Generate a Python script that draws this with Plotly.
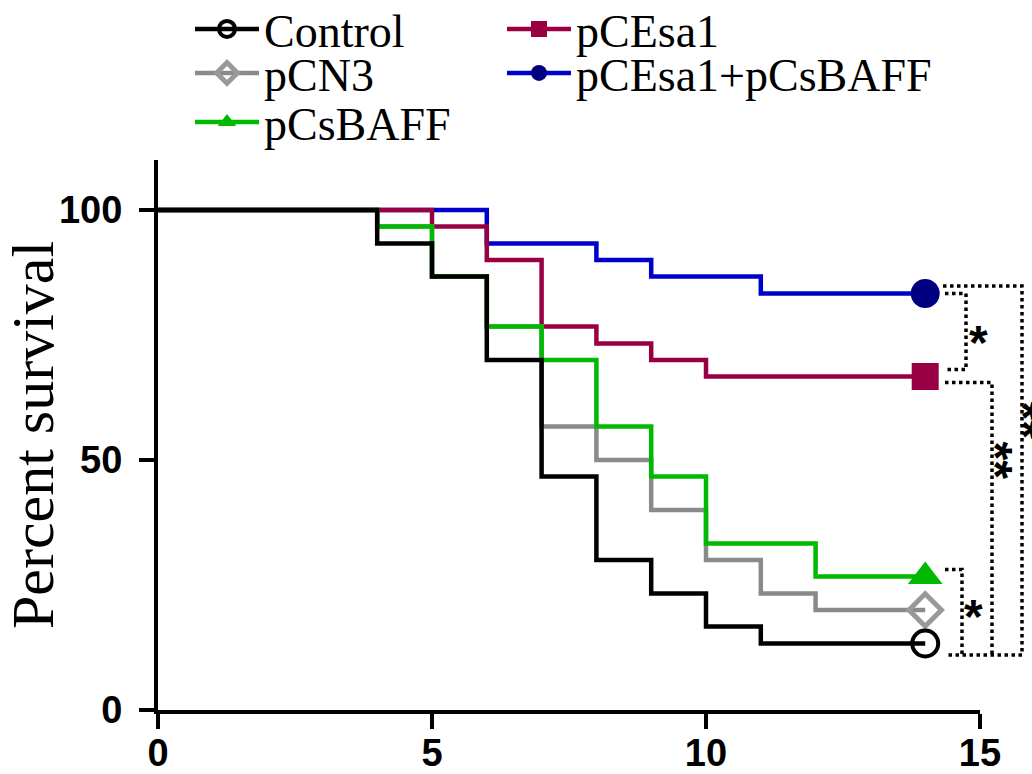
import plotly.graph_objects as go

# ---- data (days post infection, percent survival) ----
days_control = [0, 4, 5, 6, 7, 8, 9, 10, 11, 14]
surv_control = [100, 93.3, 86.7, 70, 46.7, 30, 23.3, 16.7, 13.3, 13.3]

days_pcn3 = [0, 4, 5, 6, 7, 8, 9, 10, 11, 12, 14]
surv_pcn3 = [100, 96.7, 86.7, 76.7, 56.7, 50, 40, 30, 23.3, 20, 20]

days_pcsbaff = [0, 4, 5, 6, 7, 8, 9, 10, 12, 14]
surv_pcsbaff = [100, 96.7, 86.7, 76.7, 70, 56.7, 46.7, 33.3, 26.7, 26.7]

days_pcesa1 = [0, 5, 6, 7, 8, 9, 10, 14]
surv_pcesa1 = [100, 96.7, 90, 76.7, 73.3, 70, 66.7, 66.7]

days_combo = [0, 6, 8, 9, 11, 14]
surv_combo = [100, 93.3, 90, 86.7, 83.3, 83.3]

names = ["Control", "pCN3", "pCsBAFF", "pCEsa1", "pCEsa1+pCsBAFF"]
x_ticks = [0, 5, 10, 15]
y_ticks = [0, 50, 100]

# ---- styles ----
series = {
    "Control": dict(t=days_control, s=surv_control, lc="#000000",
                    mk=dict(symbol="circle-open", size=26, color="#000000",
                            line=dict(width=4, color="#000000")), leg="legend"),
    "pCN3": dict(t=days_pcn3, s=surv_pcn3, lc="#8a8a8a",
                 mk=dict(symbol="diamond-open", size=25, color="#999999",
                         line=dict(width=5, color="#999999")), leg="legend2"),
    "pCsBAFF": dict(t=days_pcsbaff, s=surv_pcsbaff, lc="#00b900",
                    mk=dict(symbol="triangle-up", size=30, color="#00b900"), leg="legend3"),
    "pCEsa1": dict(t=days_pcesa1, s=surv_pcesa1, lc="#990044",
                   mk=dict(symbol="square", size=27, color="#990044"), leg="legend4"),
    "pCEsa1+pCsBAFF": dict(t=days_combo, s=surv_combo, lc="#0000cc",
                           mk=dict(symbol="circle", size=29, color="#000080"), leg="legend5"),
}

draw_order = ["pCEsa1+pCsBAFF", "pCEsa1", "pCN3", "pCsBAFF", "Control"]

fig = go.Figure()
for n in draw_order:
    d = series[n]
    fig.add_trace(go.Scatter(x=d["t"], y=d["s"], mode="lines", line=dict(color=d["lc"], width=4.5, shape="hv"),
                             showlegend=False, legendgroup=n, hoverinfo="skip", cliponaxis=False))
for n in draw_order:
    d = series[n]
    fig.add_trace(go.Scatter(x=[d["t"][-1]], y=[d["s"][-1]], mode="lines+markers", name=n,
                             line=dict(color=d["lc"], width=4.5), marker=d["mk"],
                             legendgroup=n, legend=d["leg"], cliponaxis=False))

# ---- legends (two columns) ----
W, H = 1032, 774
ml, mr, mt, mb = 158, 52, 160, 64
pw, ph = W - ml - mr, H - mt - mb

def px_x(px):
    return (px - ml) / pw

def px_y(py):
    return (H - mb - py) / ph

leg_font = dict(family="Liberation Serif", size=46, color="#000000")
leg_common = dict(font=leg_font, bgcolor="rgba(0,0,0,0)", borderwidth=0, xanchor="left",
                  yanchor="middle", itemwidth=64, itemsizing="trace")
fig.update_layout(
    legend=dict(x=px_x(190), y=px_y(29), **leg_common),
    legend2=dict(x=px_x(190), y=px_y(73), **leg_common),
    legend3=dict(x=px_x(190), y=px_y(122), **leg_common),
    legend4=dict(x=px_x(502), y=px_y(29), **leg_common),
    legend5=dict(x=px_x(502), y=px_y(73), **leg_common),
)

# ---- significance brackets ----
end_combo = surv_combo[-1]
end_pcesa1 = surv_pcesa1[-1]
end_pcsbaff = surv_pcsbaff[-1]
end_control = surv_control[-1]
bottom = end_control - 2.3
dot = dict(color="#000000", width=3.5, dash="3.5px,3.5px")
brackets = [
    f"M{px_x(945)},{end_combo} H{px_x(966)} V{end_pcesa1 + 1.4} H{px_x(945)}",
    f"M{px_x(943)},{end_combo + 1.5} H{px_x(1022)} V{bottom} H{px_x(945)}",
    f"M{px_x(945)},{end_pcesa1 - 1.2} H{px_x(992)} V{bottom}",
    f"M{px_x(945)},{end_pcsbaff + 1.4} H{px_x(962)} V{bottom}",
]
for p in brackets:
    fig.add_shape(type="path", path=p, xref="paper", yref="y", line=dot, layer="above")

star_font = dict(family="Liberation Sans", size=48, color="#000000", weight="bold")
fig.add_annotation(x=px_x(990), y=(end_combo + end_pcesa1) / 2 - 1.4, xref="paper", yref="y",
                   text="*", showarrow=False, font=star_font)
fig.add_annotation(x=px_x(985), y=(end_pcsbaff + end_control) / 2 - 1.2, xref="paper", yref="y",
                   text="*", showarrow=False, font=star_font)
fig.add_annotation(x=px_x(1024), y=50, xref="paper", yref="y",
                   text="**", showarrow=False, font=star_font, textangle=90)
fig.add_annotation(x=px_x(1052), y=58, xref="paper", yref="y",
                   text="**", showarrow=False, font=star_font, textangle=90)

# ---- axes ----
tick_font = dict(family="Liberation Sans", size=38, color="#000000", weight="bold")
fig.update_xaxes(range=[0, 15], tickvals=x_ticks, ticks="outside", ticklen=15, tickwidth=4,
                 tickcolor="#000000", showline=True, linewidth=4, linecolor="#000000",
                 showgrid=False, zeroline=False, tickfont=tick_font, automargin=False,
                 ticklabelstandoff=-9)
fig.update_yaxes(range=[0, 110], tickvals=y_ticks, ticks="outside", ticklen=15, tickwidth=4,
                 tickcolor="#000000", showline=True, linewidth=4, linecolor="#000000",
                 showgrid=False, zeroline=False, tickfont=tick_font, automargin=False,
                 ticklabelstandoff=9,
                 title=dict(text="Percent survival", standoff=12,
                            font=dict(family="Liberation Serif", size=60, color="#000000")))

fig.update_layout(width=W, height=H, margin=dict(l=ml, r=mr, t=mt, b=mb, autoexpand=False),
                  plot_bgcolor="white", paper_bgcolor="white")

fig.write_html("out.html", config={"displayModeBar": False},
               post_script="document.body.style.margin='0';document.body.style.overflow='hidden';")
